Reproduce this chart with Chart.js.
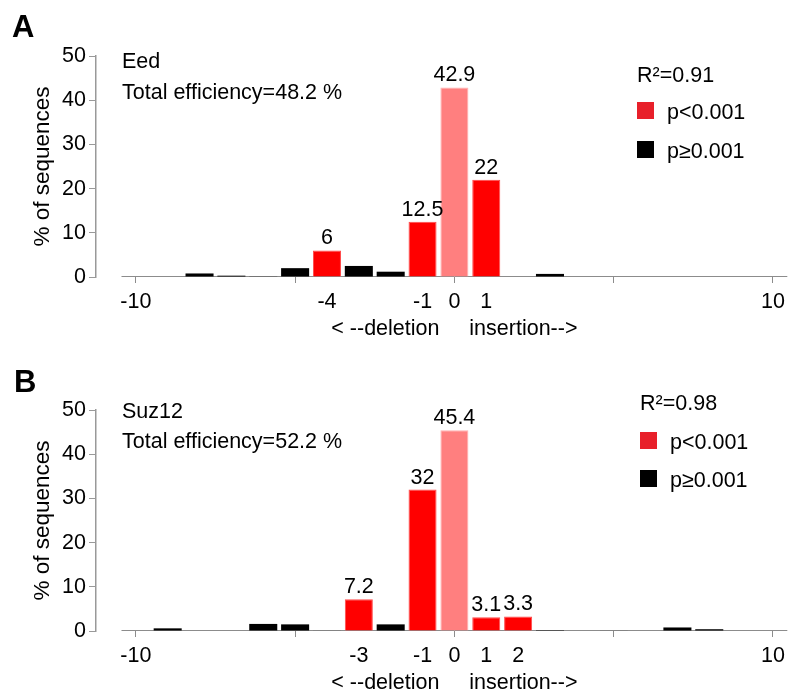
<!DOCTYPE html>
<html>

<head>
  <title>Indel distribution</title>
  <script src="https://cdn.jsdelivr.net/npm/chart.js@4.4.1/dist/chart.umd.min.js"></script>
  <style>
    body { margin: 0; background: #fff; }
    .panel { position: relative; width: 791px; }
  </style>
</head>

<body>
  <div class="panel" style="height: 354px"><canvas id="chartA" width="791" height="354"></canvas></div>
  <div class="panel" style="height: 344px"><canvas id="chartB" width="791" height="344"></canvas></div>
  <script>
    // indel size (negative = deletion, positive = insertion)
    var positions = [-10, -9, -8, -7, -6, -5, -4, -3, -2, -1, 0, 1, 2, 3, 4, 5, 6, 7, 8, 9, 10];

    var eedValues = [0, 0, 0.8, 0.3, 0.15, 2.0, 6, 2.5, 1.2, 12.5, 42.9, 22, 0, 0.7, 0, 0, 0, 0, 0, 0, 0];
    var eedSignificant = [-4, -1, 1];
    var eedTickLabels = [-10, -4, -1, 0, 1, 10];

    var suzValues = [0, 0.6, 0, 0, 1.6, 1.5, 0.1, 7.2, 1.5, 32, 45.4, 3.1, 3.3, 0.2, 0, 0.1, 0, 0.8, 0.4, 0, 0];
    var suzSignificant = [-3, -1, 1, 2];
    var suzTickLabels = [-10, -3, -1, 0, 1, 2, 10];

    var tickMarks = [-10, -5, 0, 5, 10];

    var FONT = "'Liberation Sans', Arial, sans-serif";
    Chart.defaults.font.family = FONT;
    Chart.defaults.font.size = 21.5;
    Chart.defaults.color = '#000';

    var panelText = {
      id: 'panelText',
      beforeDatasetsDraw: function (chart, args, o) {
        var ctx = chart.ctx, x = chart.scales.x, y = chart.scales.y;
        var y0 = Math.round(y.getPixelForValue(0)) - 0.5;
        ctx.save();
        ctx.strokeStyle = '#8c8c8c';
        ctx.lineWidth = 1;
        ctx.beginPath();
        ctx.moveTo(x.getPixelForValue(-10.45), y0);
        ctx.lineTo(x.getPixelForValue(10.45), y0);
        ctx.stroke();
        ctx.restore();
      },
      afterDatasetsDraw: function (chart, args, o) {
        var ctx = chart.ctx;
        var meta = chart.getDatasetMeta(0);
        ctx.save();
        ctx.font = '21.5px ' + FONT;
        ctx.fillStyle = '#000';
        ctx.textAlign = 'center';
        ctx.textBaseline = 'alphabetic';
        meta.data.forEach(function (bar, i) {
          var p = positions[i];
          if (p === 0 || o.significant.indexOf(p) >= 0) {
            ctx.fillText(String(o.values[i]), bar.x, bar.y - 6);
          }
        });
        ctx.restore();
      },
      afterDraw: function (chart, args, o) {
        var ctx = chart.ctx, x = chart.scales.x;
        ctx.save();
        ctx.fillStyle = '#000';
        ctx.textBaseline = 'alphabetic';
        ctx.textAlign = 'left';

        ctx.font = 'bold 31px ' + FONT;
        ctx.fillText(o.letter, o.letterX, o.letterY);

        ctx.font = '21.5px ' + FONT;
        ctx.fillText(o.gene, 122, o.geneY);
        ctx.fillText(o.efficiency, 122, o.effY);

        // legend
        ctx.fillText(o.r2, o.legendX, o.r2Y);
        ctx.fillStyle = '#e8202a';
        ctx.fillRect(o.legendX, o.redY, 17, 17);
        ctx.fillStyle = '#000';
        ctx.fillRect(o.legendX, o.blackY, 17, 17);
        ctx.fillText('p<0.001', o.legendX + 30, o.redY + 17);
        ctx.fillText('p\u22650.001', o.legendX + 30, o.blackY + 17);

        // x axis title, centred on zero
        ctx.textAlign = 'center';
        ctx.fillText('< --deletion     insertion-->', x.getPixelForValue(0), 335);
        ctx.restore();
      }
    };

    function makeChart(id, values, significant, tickLabels, height, text) {
      var colors = [], borders = [], widths = [];
      positions.forEach(function (p) {
        if (p === 0) {
          colors.push('#ff7f7f'); borders.push('#ffb0b0'); widths.push(1);
        } else if (significant.indexOf(p) >= 0) {
          colors.push('#ff0000'); borders.push('#ff4a4a'); widths.push(1);
        } else {
          colors.push('#000000'); borders.push('#000000'); widths.push(0);
        }
      });

      text.values = values;
      text.significant = significant;

      return new Chart(document.getElementById(id), {
        type: 'bar',
        data: {
          datasets: [{
            data: positions.map(function (p, i) { return { x: p, y: values[i] }; }),
            backgroundColor: colors,
            borderColor: borders,
            borderWidth: widths,
            categoryPercentage: 1,
            barPercentage: 0.88
          }]
        },
        options: {
          responsive: false,
          animation: false,
          events: [],
          layout: { padding: { top: 56, right: 3, left: 0, bottom: 0 } },
          plugins: {
            legend: { display: false },
            tooltip: { enabled: false },
            panelText: text
          },
          scales: {
            x: {
              type: 'linear',
              min: -11.25,
              max: 10.44,
              offset: false,
              afterBuildTicks: function (s) {
                s.ticks = positions.map(function (v) { return { value: v }; });
              },
              afterFit: function (s) { s.height = height - 277; },
              border: { display: false },
              grid: {
                offset: false,
                drawOnChartArea: false,
                tickLength: 6,
                tickColor: function (c) {
                  return c.tick && tickMarks.indexOf(c.tick.value) >= 0 ? '#8c8c8c' : 'rgba(0,0,0,0)';
                }
              },
              ticks: {
                autoSkip: false,
                maxRotation: 0,
                padding: 6,
                color: '#000',
                callback: function (v) { return tickLabels.indexOf(v) >= 0 ? String(v) : ''; }
              }
            },
            y: {
              min: 0,
              max: 50,
              ticks: { stepSize: 10, padding: 3, color: '#000' },
              grid: { drawOnChartArea: false, tickLength: 7, tickColor: '#999' },
              border: { color: '#999', width: 1.5 },
              title: { display: true, text: '% of sequences', font: { size: 22.5 }, padding: { top: 29, bottom: 0 }, color: '#000' },
              afterFit: function (s) { s.width = 96; }
            }
          }
        },
        plugins: [panelText]
      });
    }

    makeChart('chartA', eedValues, eedSignificant, eedTickLabels, 354, {
      letter: 'A', letterX: 12, letterY: 37,
      gene: 'Eed', geneY: 68,
      efficiency: 'Total efficiency=48.2 %', effY: 99,
      r2: 'R\u00b2=0.91', legendX: 637, r2Y: 82, redY: 102, blackY: 141
    });

    makeChart('chartB', suzValues, suzSignificant, suzTickLabels, 344, {
      letter: 'B', letterX: 14, letterY: 38,
      gene: 'Suz12', geneY: 64,
      efficiency: 'Total efficiency=52.2 %', effY: 94,
      r2: 'R\u00b2=0.98', legendX: 640, r2Y: 56, redY: 78, blackY: 116
    });
  </script>
</body>

</html>
